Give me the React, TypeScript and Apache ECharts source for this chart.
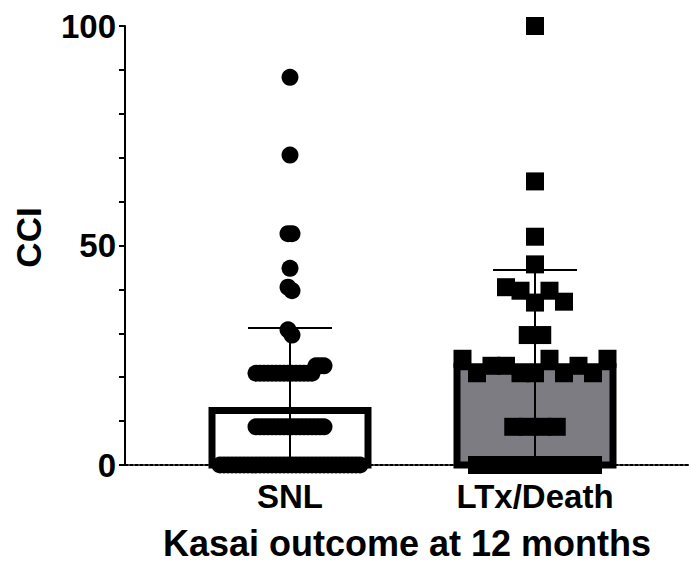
import React, { useEffect, useRef } from 'react';
import * as echarts from 'echarts';

// ---- data ----
const categories = ['SNL', 'LTx/Death'];
const snlValues = [
  88.3, 70.6, 52.7, 52.7, 44.8, 40.5, 39.7, 30.8, 29.6,
  20.9, 20.9, 20.9, 20.9, 20.9, 20.9, 20.9, 20.9, 20.9, 20.9, 20.9, 20.9, 20.9, 20.9, 20.9,
  22.6, 22.6, 22.6,
  8.7, 8.7, 8.7, 8.7, 8.7, 8.7, 8.7, 8.7, 8.7, 8.7, 8.7, 8.7, 8.7, 8.7, 8.7, 8.7, 8.7, 8.7,
  0, 0, 0, 0, 0, 0, 0, 0, 0, 0, 0, 0, 0, 0, 0, 0, 0, 0,
  0, 0, 0, 0, 0, 0, 0, 0, 0, 0, 0, 0, 0, 0, 0, 0, 0, 0,
];
const ltxValues = [
  100, 64.6, 52, 45.7,
  40.5, 39.7, 37, 39.7, 37.2,
  29.6, 29.6,
  24.2, 20.9, 22.6, 22.6, 20.9, 20.9, 24.2, 20.9, 22.6, 20.9, 24.2,
  8.7, 8.7, 8.7, 8.7,
  0, 0, 0, 0, 0, 0, 0, 0, 0,
];
const barMeans = [12.4, 22.4];
const barSDs = [18.8, 22.0];
const yAxisMin = 0;
const yAxisMax = 100;
const yAxisInterval = 50;
const xTitle = 'Kasai outcome at 12 months';
const yTitle = 'CCI';

// ---- layout / style constants ----
const FONT = '"Liberation Sans", Arial, Helvetica, sans-serif';
const X_MIN = 0.3265;
const X_MAX = 2.6286;
const BAR_PX = 156;
const BAR_BORDER = 7;
const CAP_PX = 84;
const BAR_FILLS = ['#ffffff', '#7d7c82'];

// beeswarm-like horizontal spreading of points that share (nearly) the same value
function swarmOffsets(values: number[], stepPx: number, maxSpanPx: number, tol: number) {
  const offsets = new Array(values.length).fill(0);
  let start = 0;
  while (start < values.length) {
    let end = start + 1;
    while (end < values.length && Math.abs(values[end] - values[start]) <= tol) end++;
    const n = end - start;
    const step = n > 1 ? Math.min(stepPx, maxSpanPx / (n - 1)) : 0;
    for (let k = 0; k < n; k++) offsets[start + k] = (k - (n - 1) / 2) * step;
    start = end;
  }
  return offsets;
}

export default function App() {
  const ref = useRef<HTMLDivElement>(null);

  useEffect(() => {
    if (!ref.current) return;
    const chart = echarts.init(ref.current, undefined, { renderer: 'svg' });

    const snlOff = swarmOffsets(snlValues, 4, 143, 3.6);
    const ltxOff = swarmOffsets(ltxValues, 14.5, 146, 3.6);

    const snlData = snlValues.map((v, i) => ({ value: [1, v], symbolOffset: [snlOff[i], 0] }));
    const ltxData = ltxValues.map((v, i) => ({ value: [2, v], symbolOffset: [ltxOff[i], 0] }));

    const barData = barMeans.map((m, i) => [i + 1, m]);
    const errData = barMeans.map((m, i) => [i + 1, m, barSDs[i]]);

    const option: any = {
      animation: false,
      backgroundColor: '#ffffff',
      grid: { left: 125, right: 0, top: 26, bottom: 94, containLabel: false },
      xAxis: {
        type: 'value',
        min: X_MIN,
        max: X_MAX,
        axisLine: { show: true, onZero: false, lineStyle: { color: '#000', width: 2, type: [3, 2] } },
        axisTick: { show: false },
        splitLine: { show: false },
        axisLabel: {
          customValues: [1, 2],
          formatter: (v: number) => categories[Math.round(v) - 1] ?? '',
          margin: 15,
          fontSize: 33,
          fontWeight: 'bold',
          color: '#000',
          fontFamily: FONT,
        },
        name: xTitle,
        nameLocation: 'middle',
        nameGap: 60,
        nameTextStyle: { fontSize: 36, fontWeight: 'bold', color: '#000', fontFamily: FONT },
      },
      yAxis: {
        type: 'value',
        min: yAxisMin,
        max: yAxisMax,
        interval: yAxisInterval,
        axisLine: { show: true, lineStyle: { color: '#000', width: 2 } },
        axisTick: { show: true, length: 6, lineStyle: { color: '#000', width: 2 } },
        minorTick: { show: true, splitNumber: 5, length: 6, lineStyle: { color: '#000', width: 2 } },
        splitLine: { show: false },
        axisLabel: { margin: 9, fontSize: 33, fontWeight: 'bold', color: '#000', fontFamily: FONT },
        name: yTitle,
        nameLocation: 'middle',
        nameGap: 79,
        nameRotate: 90,
        nameTextStyle: { fontSize: 35, fontWeight: 'bold', color: '#000', fontFamily: FONT, padding: [0, 0, 0, 16] },
      },
      series: [
        {
          type: 'custom',
          name: 'bars',
          z: 2,
          clip: false,
          data: barData,
          renderItem: (params: any, api: any) => {
            const x = api.value(0);
            const m = api.value(1);
            const p0 = api.coord([x, 0]);
            const p1 = api.coord([x, m]);
            return {
              type: 'rect',
              shape: { x: p0[0] - BAR_PX / 2, y: p1[1], width: BAR_PX, height: p0[1] - p1[1] },
              style: { fill: BAR_FILLS[params.dataIndex], stroke: '#000', lineWidth: BAR_BORDER },
            };
          },
        },
        {
          type: 'custom',
          name: 'sd',
          z: 3,
          clip: false,
          data: errData,
          renderItem: (params: any, api: any) => {
            const x = api.value(0);
            const m = api.value(1);
            const sd = api.value(2);
            const top = api.coord([x, m + sd]);
            const bot = api.coord([x, Math.max(0, m - sd)]);
            const style = { stroke: '#000', lineWidth: 2 };
            return {
              type: 'group',
              children: [
                { type: 'line', shape: { x1: top[0], y1: top[1], x2: bot[0], y2: bot[1] }, style },
                { type: 'line', shape: { x1: top[0] - CAP_PX / 2, y1: top[1], x2: top[0] + CAP_PX / 2, y2: top[1] }, style },
              ],
            };
          },
        },
        {
          type: 'scatter',
          name: categories[0],
          z: 4,
          clip: false,
          symbol: 'circle',
          symbolSize: 17,
          itemStyle: { color: '#000', opacity: 1 },
          data: snlData,
        },
        {
          type: 'scatter',
          name: categories[1],
          z: 4,
          clip: false,
          symbol: 'rect',
          symbolSize: 18,
          itemStyle: { color: '#000', opacity: 1 },
          data: ltxData,
        },
      ],
    };

    chart.setOption(option);
    return () => chart.dispose();
  }, []);

  return (
    <div
      ref={ref}
      style={{ position: 'fixed', left: 0, top: 0, width: 689, height: 566, background: '#fff' }}
    />
  );
}
